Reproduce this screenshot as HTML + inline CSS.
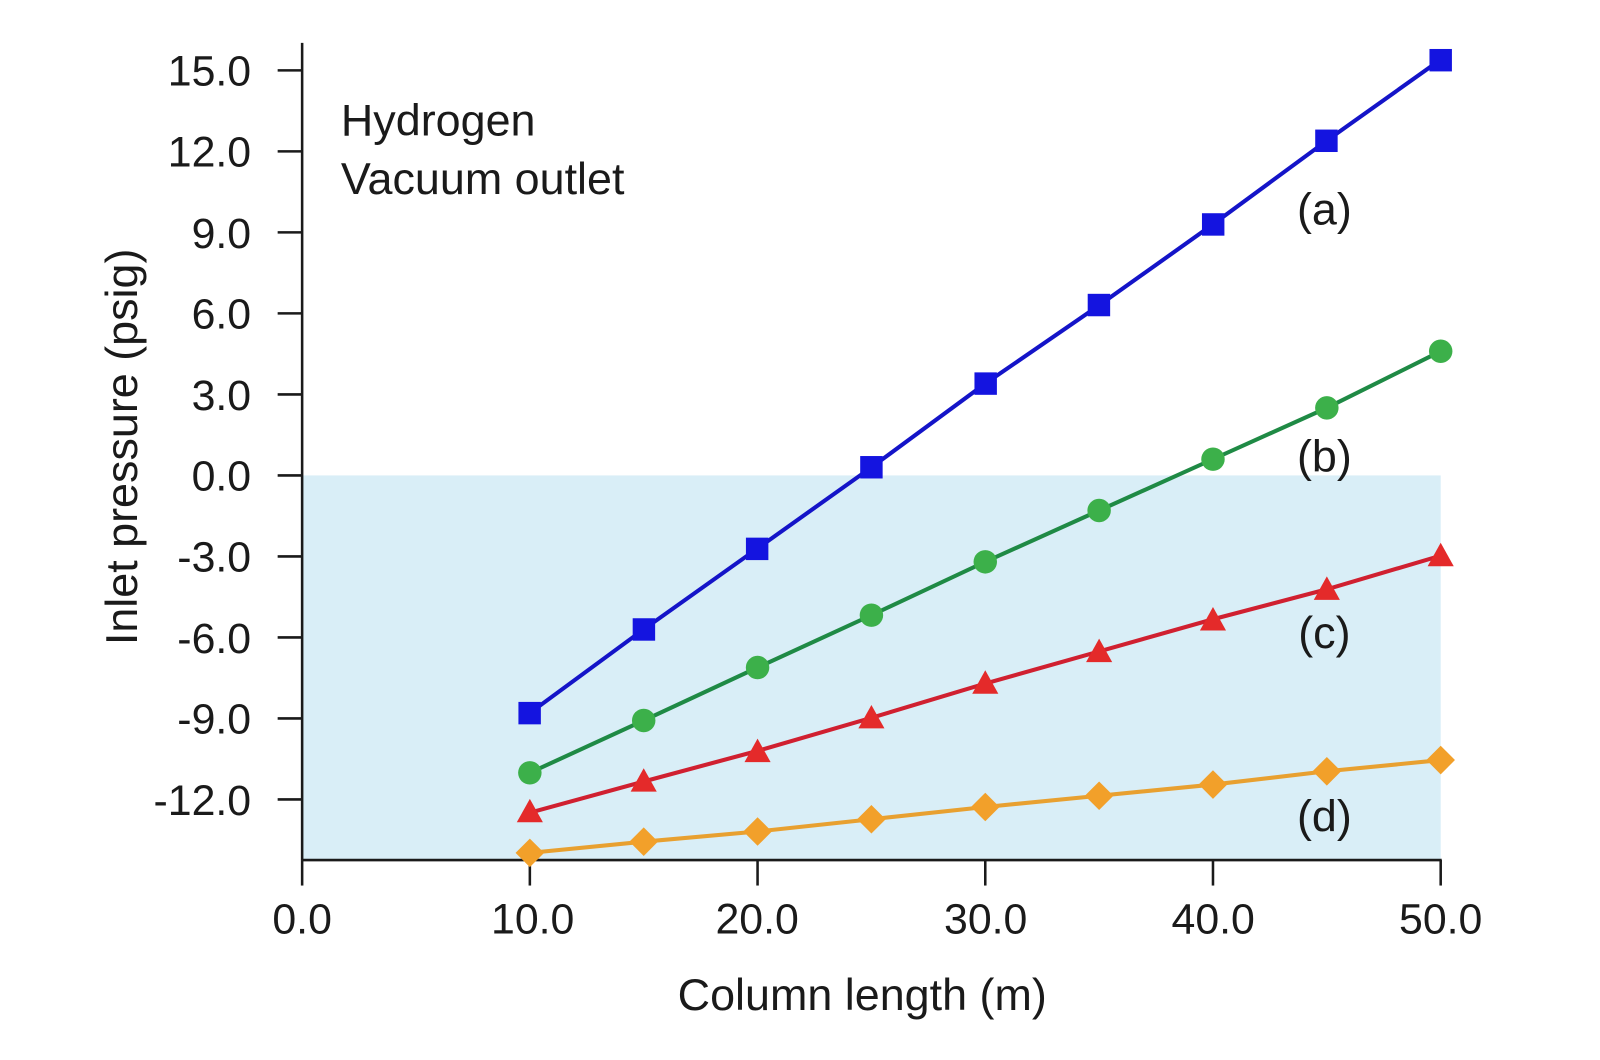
<!DOCTYPE html>
<html><head><meta charset="utf-8"><style>
html,body{margin:0;padding:0;background:#fff;width:1600px;height:1060px;overflow:hidden}
svg{display:block}
text{font-family:"Liberation Sans Narrow","Liberation Sans",sans-serif;fill:#1a1a1a}
</style></head><body>
<svg width="1600" height="1060" viewBox="0 0 1568 1039" xmlns="http://www.w3.org/2000/svg">
<rect x="296" y="466" width="1116" height="377" fill="#d9eef7"/>
<g stroke="#1a1a1a" stroke-width="2.5" fill="none">
<line x1="296" y1="42" x2="296" y2="843"/>
<line x1="296" y1="843" x2="1413" y2="843"/>
<line x1="272" y1="69" x2="296" y2="69"/>
<line x1="272" y1="148.4" x2="296" y2="148.4"/>
<line x1="272" y1="227.8" x2="296" y2="227.8"/>
<line x1="272" y1="307.2" x2="296" y2="307.2"/>
<line x1="272" y1="386.6" x2="296" y2="386.6"/>
<line x1="272" y1="466" x2="296" y2="466"/>
<line x1="272" y1="545.4" x2="296" y2="545.4"/>
<line x1="272" y1="624.8" x2="296" y2="624.8"/>
<line x1="272" y1="704.2" x2="296" y2="704.2"/>
<line x1="272" y1="783.6" x2="296" y2="783.6"/>
<line x1="296" y1="843" x2="296" y2="868"/>
<line x1="519.2" y1="843" x2="519.2" y2="868"/>
<line x1="742.4" y1="843" x2="742.4" y2="868"/>
<line x1="965.6" y1="843" x2="965.6" y2="868"/>
<line x1="1188.8" y1="843" x2="1188.8" y2="868"/>
<line x1="1412" y1="843" x2="1412" y2="868"/>
</g>
<g font-size="42" text-anchor="end">
<text x="246" y="84">15.0</text>
<text x="246" y="163">12.0</text>
<text x="246" y="243">9.0</text>
<text x="246" y="322">6.0</text>
<text x="246" y="402">3.0</text>
<text x="246" y="481">0.0</text>
<text x="246" y="560">-3.0</text>
<text x="246" y="640">-6.0</text>
<text x="246" y="719">-9.0</text>
<text x="246" y="799">-12.0</text>
</g>
<g font-size="42" text-anchor="middle">
<text x="296" y="915">0.0</text>
<text x="522" y="915">10.0</text>
<text x="742" y="915">20.0</text>
<text x="966" y="915">30.0</text>
<text x="1189" y="915">40.0</text>
<text x="1412" y="915">50.0</text>
</g>
<g font-size="44" text-anchor="middle">
<text x="845" y="990">Column length (m)</text>
<text transform="translate(134,438) rotate(-90)">Inlet pressure (psig)</text>
</g>
<g font-size="44">
<text x="334" y="133">Hydrogen</text>
<text x="334" y="190">Vacuum outlet</text>
<text x="1298" y="220" text-anchor="middle">(a)</text>
<text x="1298" y="462" text-anchor="middle">(b)</text>
<text x="1298" y="635" text-anchor="middle">(c)</text>
<text x="1298" y="815" text-anchor="middle">(d)</text>
</g>
<polyline fill="none" stroke="#1414c8" stroke-width="4" points="519.2,698.9 630.8,616.9 742.4,537.5 854,458.1 965.6,376 1077.2,299.3 1188.8,219.9 1300.4,137.8 1412,58.4"/>
<g fill="#1414e0">
<rect x="508" y="688" width="22" height="22"/><rect x="620" y="606" width="22" height="22"/><rect x="731" y="527" width="22" height="22"/><rect x="843" y="447" width="22" height="22"/><rect x="955" y="365" width="22" height="22"/><rect x="1066" y="288" width="22" height="22"/><rect x="1178" y="209" width="22" height="22"/><rect x="1289" y="127" width="22" height="22"/><rect x="1401" y="48" width="22" height="22"/>
</g>
<polyline fill="none" stroke="#1f8a45" stroke-width="4" points="519.2,757.5 630.8,706.2 742.4,654.3 854,603 965.6,550.7 1077.2,500.4 1188.8,450.1 1300.4,399.8 1412,344.3"/>
<g fill="#3cb04a">
<circle cx="519.2" cy="757.5" r="11.5"/><circle cx="630.8" cy="706.2" r="11.5"/><circle cx="742.4" cy="654.3" r="11.5"/><circle cx="854" cy="603" r="11.5"/><circle cx="965.6" cy="550.7" r="11.5"/><circle cx="1077.2" cy="500.4" r="11.5"/><circle cx="1188.8" cy="450.1" r="11.5"/><circle cx="1300.4" cy="399.8" r="11.5"/><circle cx="1412" cy="344.3" r="11.5"/>
</g>
<polyline fill="none" stroke="#d02030" stroke-width="4" points="519.2,796.6 630.8,766 742.4,736 854,703.6 965.6,670 1077.2,638.5 1188.8,607 1300.4,577.6 1412,544.7"/>
<g fill="#e42a2a">
<polygon points="519.2,783 532,806 506.4,806"/><polygon points="630.8,753 643.6,776 618,776"/><polygon points="742.4,724 755.2,747 729.6,747"/><polygon points="854,691 866.8,714 841.2,714"/><polygon points="965.6,657 978.4,680 952.8,680"/><polygon points="1077.2,626 1090,649 1064.4,649"/><polygon points="1188.8,595 1201.6,618 1176,618"/><polygon points="1300.4,565 1313.2,588 1287.6,588"/><polygon points="1412,532 1424.8,555 1399.2,555"/>
</g>
<polyline fill="none" stroke="#e8a030" stroke-width="4" points="519.2,836 630.8,825 742.4,815 854,803 965.6,791 1077.2,780 1188.8,769 1300.4,756 1412,745"/>
<g fill="#f2a02a">
<polygon points="519.2,822 533.2,836 519.2,850 505.2,836"/><polygon points="630.8,811 644.8,825 630.8,839 616.8,825"/><polygon points="742.4,801 756.4,815 742.4,829 728.4,815"/><polygon points="854,789 868,803 854,817 840,803"/><polygon points="965.6,777 979.6,791 965.6,805 951.6,791"/><polygon points="1077.2,766 1091.2,780 1077.2,794 1063.2,780"/><polygon points="1188.8,755 1202.8,769 1188.8,783 1174.8,769"/><polygon points="1300.4,742 1314.4,756 1300.4,770 1286.4,756"/><polygon points="1412,731 1426,745 1412,759 1398,745"/>
</g>
</svg>
</body></html>
